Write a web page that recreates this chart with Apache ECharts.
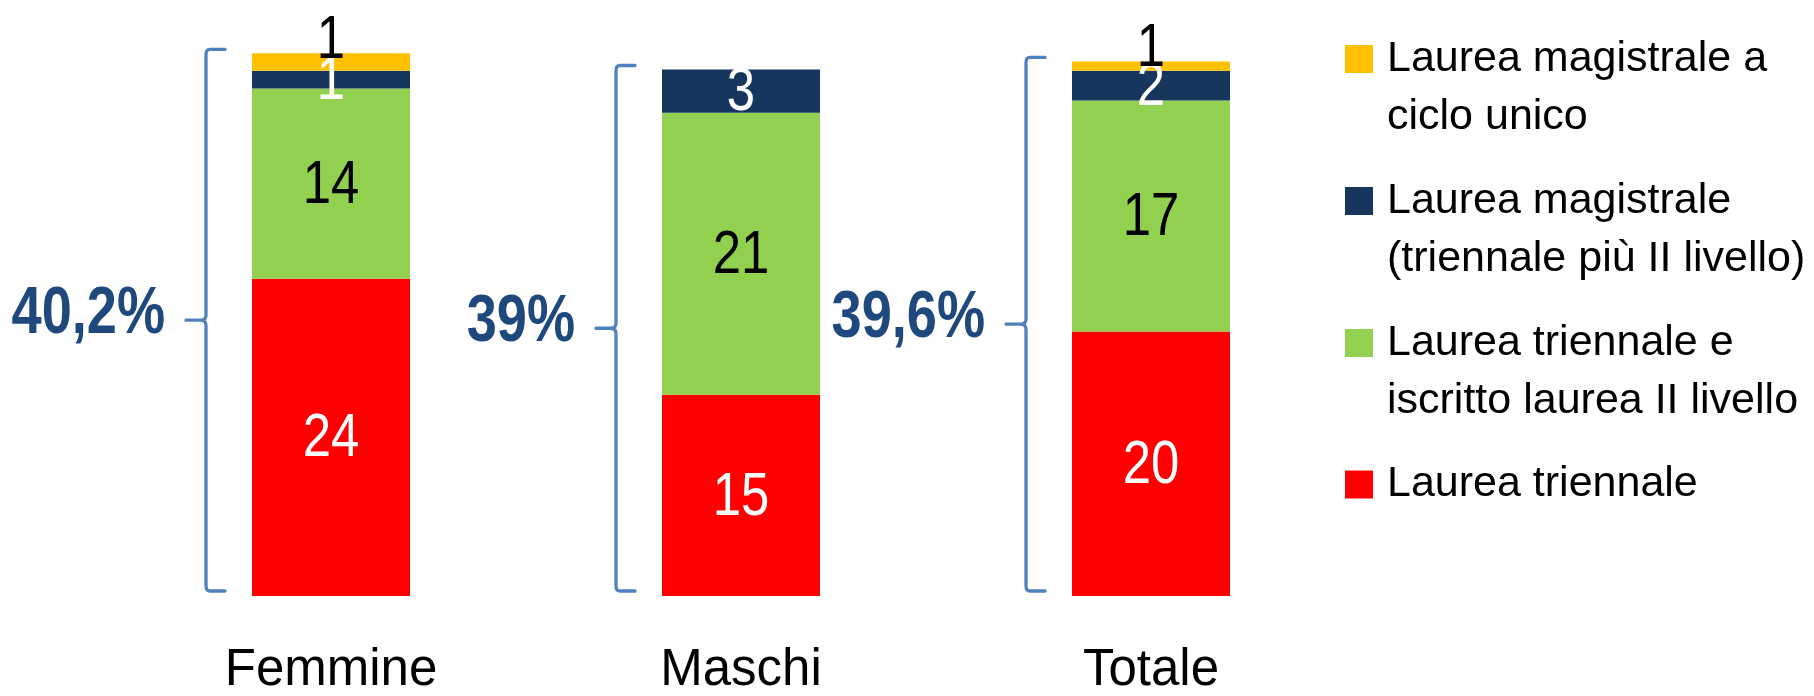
<!DOCTYPE html>
<html>
<head>
<meta charset="utf-8">
<script src="https://cdn.jsdelivr.net/npm/echarts@6/dist/echarts.min.js"></script>
<style>
html,body{margin:0;padding:0;background:#fff;}
#chart{width:1814px;height:696px;}
</style>
</head>
<body>
<div id="chart"></div>
<script>
// ---- data ----
var categories = ['Femmine', 'Maschi', 'Totale'];
var seriesNames = [
  'Laurea triennale',
  'Laurea triennale e iscritto laurea II livello',
  'Laurea magistrale (triennale più II livello)',
  'Laurea magistrale a ciclo unico'
];
var laureaTriennale = [23.5, 14.9, 19.6];
var triennaleIscritto = [14.1, 20.9, 17.1];
var laureaMagistrale = [1.3, 3.2, 2.2];
var cicloUnico = [1.3, 0, 0.7];
var totals = [40.2, 39, 39.6];
var legendLines = {
  'Laurea magistrale a ciclo unico': ['Laurea magistrale a', 'ciclo unico'],
  'Laurea magistrale (triennale più II livello)': ['Laurea magistrale', '(triennale più II livello)'],
  'Laurea triennale e iscritto laurea II livello': ['Laurea triennale e', 'iscritto laurea II livello'],
  'Laurea triennale': ['Laurea triennale']
};

// ---- styles ----
var FONT = '"Liberation Sans", Arial, sans-serif';
var colors = ['#FF0000', '#92D050', '#17365D', '#FFC000'];
var labelColors = ['#FFFFFF', '#000000', '#FFFFFF', '#000000'];
var values = [laureaTriennale, triennaleIscritto, laureaMagistrale, cicloUnico];
var NARROW_SCALE = 0.82;

var chart = echarts.init(document.getElementById('chart'), null, {renderer: 'canvas'});

var series = values.map(function (vals, k) {
  return {
    name: seriesNames[k],
    type: 'bar',
    stack: 'tot',
    barWidth: 158,
    data: vals,
    itemStyle: {color: colors[k]},
    emphasis: {disabled: true}
  };
});

// segment labels (condensed text like the original), placed through the axes
var labelData = [];
categories.forEach(function (c, i) {
  var base = 0;
  values.forEach(function (vals, k) {
    labelData.push([i, base, vals[i], k]);
    base += vals[i];
  });
});

series.push({
  type: 'custom',
  name: 'segment labels',
  coordinateSystem: 'cartesian2d',
  encode: {x: 0, y: 1},
  data: labelData,
  z: 4,
  silent: true,
  renderItem: function (params, api) {
    var i = api.value(0), base = api.value(1), v = api.value(2), k = api.value(3);
    if (!v) return null;
    var p;
    if (k === 3) {
      p = api.coord([i, base + v]);
      p = [p[0], p[1] - 12];
    } else {
      p = api.coord([i, base + v / 2]);
      p = [p[0], p[1] + 2];
    }
    return {
      type: 'text',
      x: p[0],
      y: p[1],
      scaleX: NARROW_SCALE,
      style: {
        text: String(Math.round(v)),
        x: 0, y: 0,
        align: 'center',
        verticalAlign: 'middle',
        fontFamily: FONT,
        fontSize: 62,
        fill: labelColors[k]
      }
    };
  }
});

series.push({
  type: 'custom',
  name: 'brace',
  coordinateSystem: 'cartesian2d',
  encode: {x: 0, y: 1},
  data: totals.map(function (t, i) { return [i, t]; }),
  z: 5,
  silent: true,
  renderItem: function (params, api) {
    var i = api.value(0), t = api.value(1);
    var pTop = api.coord([i, t]);
    var pBot = api.coord([i, 0]);
    var cx = pTop[0];
    var x0 = cx - 125, xr = cx - 106, xt = cx - 145;
    var yT = pTop[1] - 4, yB = pBot[1] - 5, yM = (yT + yB) / 2;
    var d = 'M' + xr + ' ' + yT +
      ' L' + (x0 + 4) + ' ' + yT +
      ' Q' + x0 + ' ' + yT + ' ' + x0 + ' ' + (yT + 5) +
      ' L' + x0 + ' ' + (yM - 5) +
      ' Q' + x0 + ' ' + yM + ' ' + (x0 - 6) + ' ' + yM +
      ' L' + xt + ' ' + yM +
      ' M' + (x0 - 6) + ' ' + yM +
      ' Q' + x0 + ' ' + yM + ' ' + x0 + ' ' + (yM + 5) +
      ' L' + x0 + ' ' + (yB - 5) +
      ' Q' + x0 + ' ' + yB + ' ' + (x0 + 4) + ' ' + yB +
      ' L' + xr + ' ' + yB;
    return {
      type: 'group',
      children: [
        {
          type: 'path',
          shape: {pathData: d},
          style: {stroke: '#4F81BD', lineWidth: 3.3, fill: null, lineCap: 'round', lineJoin: 'round'}
        },
        {
          type: 'text',
          x: cx - 166,
          y: yM - 5,
          scaleX: NARROW_SCALE,
          style: {
            text: String(t).replace('.', ',') + '%',
            x: 0, y: 0,
            align: 'right',
            verticalAlign: 'middle',
            fontFamily: FONT,
            fontWeight: 'bold',
            fontSize: 66,
            fill: '#1F497D'
          }
        }
      ]
    };
  }
});

// legends: one per item; a leading empty line keeps the icon on the first text line
var legendOrder = [3, 2, 1, 0];
var iconCenters = [59, 201, 343, 484.5];
var LH = 58;
var legends = legendOrder.map(function (k, j) {
  var name = seriesNames[k];
  var lines = legendLines[name];
  var multi = lines.length > 1;
  var half = multi ? (LH * 3) / 2 : LH / 2;
  return {
    data: [name],
    orient: 'vertical',
    left: 1345,
    top: iconCenters[j] - half,
    padding: 0,
    itemWidth: 28,
    itemHeight: 28,
    icon: 'rect',
    selectedMode: false,
    formatter: function () { return multi ? '\n' + lines.join('\n') : lines[0]; },
    textStyle: {
      fontFamily: FONT,
      fontSize: 43,
      lineHeight: LH,
      color: '#000',
      padding: [0, 0, 0, 9]
    }
  };
});

var option = {
  animation: false,
  backgroundColor: '#fff',
  grid: {left: 126, right: 458, top: 2, bottom: 97, containLabel: false},
  legend: legends,
  xAxis: {
    type: 'category',
    data: categories,
    axisLine: {show: false},
    axisTick: {show: false},
    splitLine: {show: false},
    axisLabel: {
      margin: 49,
      fontFamily: FONT,
      fontSize: 51,
      lineHeight: 51,
      color: '#000'
    }
  },
  yAxis: {
    type: 'value',
    min: 0,
    max: 44,
    show: false,
    splitLine: {show: false}
  },
  series: series
};

chart.setOption(option);
</script>
</body>
</html>
